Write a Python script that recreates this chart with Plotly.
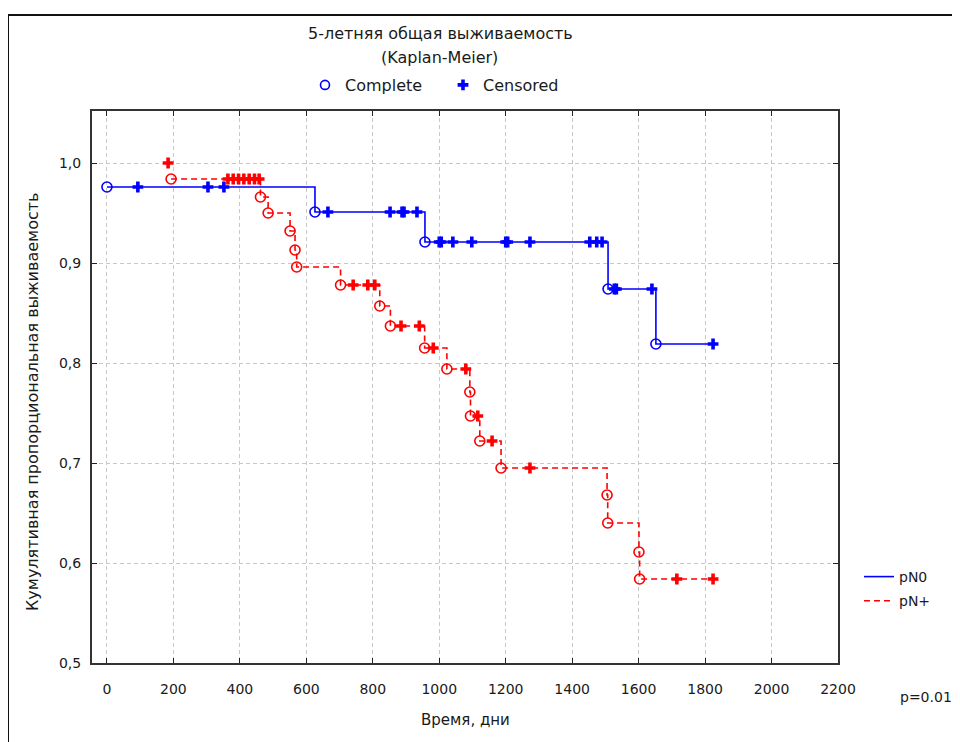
import plotly.graph_objects as go

# ---------------- data ----------------
# pN0 (blue): time (days), survival, status (1 = complete, 0 = censored)
pn0_time = [0, 93, 304, 352, 626, 665, 852, 888, 894, 933, 957, 1000, 1006, 1041, 1098,
            1200, 1206, 1273, 1453, 1474, 1490, 1508, 1527, 1533, 1640, 1652, 1824]
pn0_surv = [0.976, 0.976, 0.976, 0.976, 0.951, 0.951, 0.951, 0.951, 0.951, 0.951, 0.921,
            0.921, 0.921, 0.921, 0.921, 0.921, 0.921, 0.921, 0.921, 0.921, 0.921, 0.874,
            0.874, 0.874, 0.874, 0.819, 0.819]
pn0_status = [1, 0, 0, 0, 1, 0, 0, 0, 0, 0, 1, 0, 0, 0, 0, 0, 0, 0, 0, 0, 0, 1, 0, 0, 0, 1, 0]

# pN+ (red)
pnp_time = [184, 193, 364, 380, 396, 412, 428, 444, 458, 462, 485, 551, 566, 571, 703,
            741, 785, 806, 821, 853, 885, 940, 956, 982, 1023, 1080, 1092, 1094, 1116, 1122,
            1159, 1186, 1273, 1505, 1507, 1601, 1603, 1715, 1824]
pnp_surv = [1.0, 0.984, 0.984, 0.984, 0.984, 0.984, 0.984, 0.984, 0.984, 0.966, 0.950,
            0.932, 0.913, 0.896, 0.878, 0.878, 0.878, 0.878, 0.857, 0.837, 0.837, 0.837, 0.815,
            0.815, 0.794, 0.794, 0.771, 0.747, 0.747, 0.722, 0.722, 0.695, 0.695, 0.668, 0.640,
            0.611, 0.584, 0.584, 0.584]
pnp_status = [0, 1, 0, 0, 0, 0, 0, 0, 0, 1, 1, 1, 1, 1, 1, 0, 0, 0, 1, 1, 0, 0, 1, 0, 1, 0,
              1, 1, 0, 1, 0, 1, 0, 1, 1, 1, 1, 0, 0]

x_ticks = [0, 200, 400, 600, 800, 1000, 1200, 1400, 1600, 1800, 2000, 2200]
x_tick_text = [str(v) for v in x_ticks]
y_ticks = [0.5, 0.6, 0.7, 0.8, 0.9, 1.0]
y_tick_text = ["0,5", "0,6", "0,7", "0,8", "0,9", "1,0"]

BLUE = "#0000ff"
RED = "#ff0000"
FONT = "DejaVu Sans"
TXT = "#1a1a1a"


def split(t, s, st, flag):
    return ([a for a, c in zip(t, st) if c == flag], [b for b, c in zip(s, st) if c == flag])


fig = go.Figure()

series = [
    ("pN0", pn0_time, pn0_surv, pn0_status, BLUE, "solid"),
    ("pN+", pnp_time, pnp_surv, pnp_status, RED, "6px,4px"),
]
for name, t, s, st, col, dash in series:
    start = 1 if st[0] == 0 else 0
    fig.add_trace(go.Scatter(x=t[start:], y=s[start:], mode="lines", name=name,
                             line=dict(color=col, width=1.6, dash=dash, shape="hv"),
                             legend="legend", legendgroup=name))
    ct, cs = split(t, s, st, 1)
    fig.add_trace(go.Scatter(x=ct, y=cs, mode="markers", showlegend=False,
                             marker=dict(symbol="circle-open", size=10, color=col,
                                         line=dict(width=1.6, color=col))))
    xt, xs = split(t, s, st, 0)
    fig.add_trace(go.Scatter(x=xt, y=xs, mode="markers", showlegend=False,
                             marker=dict(symbol="cross", size=9, color=col,
                                         line=dict(width=0))))

# top legend (marker key)
fig.add_trace(go.Scatter(x=[None], y=[None], mode="markers", name="Complete", legend="legend2",
                         marker=dict(symbol="circle-open", size=9, color=BLUE,
                                     line=dict(width=1.6, color=BLUE))))
fig.add_trace(go.Scatter(x=[None], y=[None], mode="markers", name="Censored", legend="legend2",
                         marker=dict(symbol="cross", size=9, color=BLUE)))

# page body has an 8px margin: work in screen pixels and convert
OFF = 8
W, H = 960, 742
SL, SR, ST, SB = 92, 838, 111, 663          # plot area on screen
L, T = SL - OFF, ST - OFF
R, B = W - (SR - OFF), H - (SB - OFF)
pw, ph = SR - SL, SB - ST


def px(x):
    return (x - SL) / pw


def py(y):
    return (SB - y) / ph


axis_common = dict(showline=True, linecolor="#333333", linewidth=2, mirror="ticks",
                   ticks="inside", ticklen=5, tickwidth=1, tickcolor="#222222",
                   showgrid=True, gridcolor="#c8c8c8", gridwidth=1, griddash="4px,3px",
                   zeroline=False, tickfont=dict(family=FONT, size=14, color=TXT))

fig.update_layout(
    width=W, height=H,
    margin=dict(l=L, r=R, t=T, b=B, autoexpand=False),
    paper_bgcolor="white", plot_bgcolor="white",
    xaxis=dict(range=[-45, 2200], tickvals=x_ticks, ticktext=x_tick_text,
               ticklabelstandoff=12, **axis_common),
    yaxis=dict(range=[0.5, 1.052], tickvals=y_ticks, ticktext=y_tick_text,
               ticklabelstandoff=6, **axis_common),
    legend=dict(x=px(859), y=py(561), xanchor="left", yanchor="top",
                font=dict(family=FONT, size=14, color=TXT), tracegroupgap=3,
                bgcolor="rgba(0,0,0,0)", itemwidth=30),
    legend2=dict(orientation="h", x=px(305), y=py(85), xanchor="left", yanchor="middle",
                 entrywidth=93, entrywidthmode="pixels",
                 font=dict(family=FONT, size=16, color=TXT), bgcolor="rgba(0,0,0,0)"),
    showlegend=True,
)

annos = [
    ("5-летняя общая выживаемость", 440, 33, 16, 0),
    ("(Kaplan-Meier)", 439, 57, 16, 0),
    ("Время, дни", 465, 720, 15, 0),
    ("Кумулятивная пропорциональная выживаемость", 32, 402, 16, -90),
    ("p=0.01", 926, 697, 14, 0),
]
for text, x, y, size, ang in annos:
    fig.add_annotation(text=text, x=px(x), y=py(y), xref="paper", yref="paper",
                       showarrow=False, textangle=ang, xanchor="center", yanchor="middle",
                       font=dict(family=FONT, size=size, color=TXT))

# outer frame lines (left and top of the picture border)
fig.add_shape(type="line", xref="paper", yref="paper", x0=px(8), x1=px(8), y0=py(15), y1=py(760),
              line=dict(color="#111111", width=2))
fig.add_shape(type="line", xref="paper", yref="paper", x0=px(8), x1=px(980), y0=py(15), y1=py(15),
              line=dict(color="#111111", width=2))

fig.write_html("out.html")
